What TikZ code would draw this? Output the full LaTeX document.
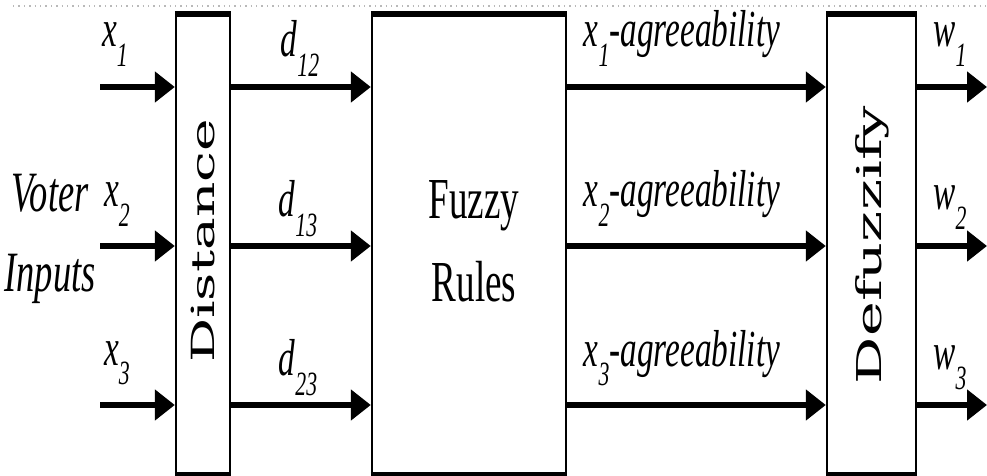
\documentclass[tikz,border=0pt]{standalone}
\usepackage{fontspec}
\usepackage{graphicx}
\setmainfont{Liberation Serif}
\newfontfamily\wideserif{DejaVu Serif}
\usetikzlibrary{arrows.meta}

% condensed text and lowered italic indices
\newcommand\narrow[1]{\scalebox{0.64}[1]{#1}}
\newcommand\squash[1]{\scalebox{0.58}[1]{#1}}
\newcommand\idx[1]{\raisebox{-0.38em}{\fontsize{17}{17}\selectfont\itshape #1}}

\tikzset{
  blk/.style={draw, line width=1.2pt, inner sep=0pt},
  bar/.style={line width=3pt},
  arr/.style={line width=2.6pt, -{Triangle[length=10pt,width=15pt]}},
  lab/.style={inner sep=0pt, anchor=base, font=\fontsize{26}{26}\selectfont\itshape},
  side/.style={inner sep=0pt, anchor=base, font=\fontsize{28.5}{28.5}\selectfont\itshape},
  rot/.style={inner sep=0pt, font=\wideserif},
  rules/.style={inner sep=0pt, anchor=base, font=\fontsize{29}{29}\selectfont},
}

\begin{document}
\begin{tikzpicture}[x=0.5pt, y=-0.5pt]
  \useasboundingbox (0,0) rectangle (987,476);

  % page rule along the top
  \draw[gray!55, dotted, line width=0.7pt] (13,6) -- (987,6);

  % processing blocks
  \node[blk, minimum width=27pt,   minimum height=229.5pt] (dist)  at (203,244.5) {};
  \node[blk, minimum width=97pt,   minimum height=229.5pt] (fuzzy) at (469,244.5) {};
  \node[blk, minimum width=44.5pt, minimum height=229.5pt] (defz)  at (871.5,244.5) {};
  \foreach \b in {dist,fuzzy,defz}{
    \draw[bar] (\b.north west) -- (\b.north east);
    \draw[bar] (\b.south west) -- (\b.south east);
  }

  % block captions
  \node[rot] (distT) at (203,241) {\squash{\rotatebox{90}{\fontsize{27.5}{27.5}\selectfont Distance}}};
  \node[rot] (defzT) at (872,245) {\squash{\rotatebox{90}{\fontsize{29.5}{29.5}\selectfont Defuzzify}}};
  \node[rules] (fuzT1) at (474,219) {\narrow{Fuzzy}};
  \node[rules] (fuzT2) at (474,302) {\narrow{Rules}};
  \node[side] (voter)  at (50,212) {\narrow{Voter}};
  \node[side] (inputs) at (50,292) {\narrow{Inputs}};

  % signal rows
  \foreach \i/\y in {1/87, 2/246, 3/405}{
    \coordinate (in\i)  at (100,\y);
    \coordinate (out\i) at (987,\y);
    \draw[arr] (in\i) -- (in\i -| dist.west);
    \draw[arr] (dist.east |- in\i) -- (fuzzy.west |- in\i);
    \draw[arr] (fuzzy.east |- in\i) -- (defz.west |- in\i);
    \draw[arr] (defz.east |- in\i) -- (out\i);
  }

  % signal labels
  \node[lab] (lx1) at (115,47)  {\narrow{x\idx{1}}};
  \node[lab] (lx2) at (117,207) {\narrow{x\idx{2}}};
  \node[lab] (lx3) at (117,365) {\narrow{x\idx{3}}};

  \node[lab] (ld1) at (300,57)  {\narrow{d\idx{12}}};
  \node[lab] (ld2) at (298,217) {\narrow{d\idx{13}}};
  \node[lab] (ld3) at (298,376) {\narrow{d\idx{23}}};

  \node[lab] (la1) at (682,47)  {\narrow{x\idx{1}-agreeability}};
  \node[lab] (la2) at (682,207) {\narrow{x\idx{2}-agreeability}};
  \node[lab] (la3) at (682,366) {\narrow{x\idx{3}-agreeability}};

  \node[lab] (lw1) at (950,47)  {\narrow{w\idx{1}}};
  \node[lab] (lw2) at (950,210) {\narrow{w\idx{2}}};
  \node[lab] (lw3) at (950,370) {\narrow{w\idx{3}}};
\end{tikzpicture}
\end{document}
